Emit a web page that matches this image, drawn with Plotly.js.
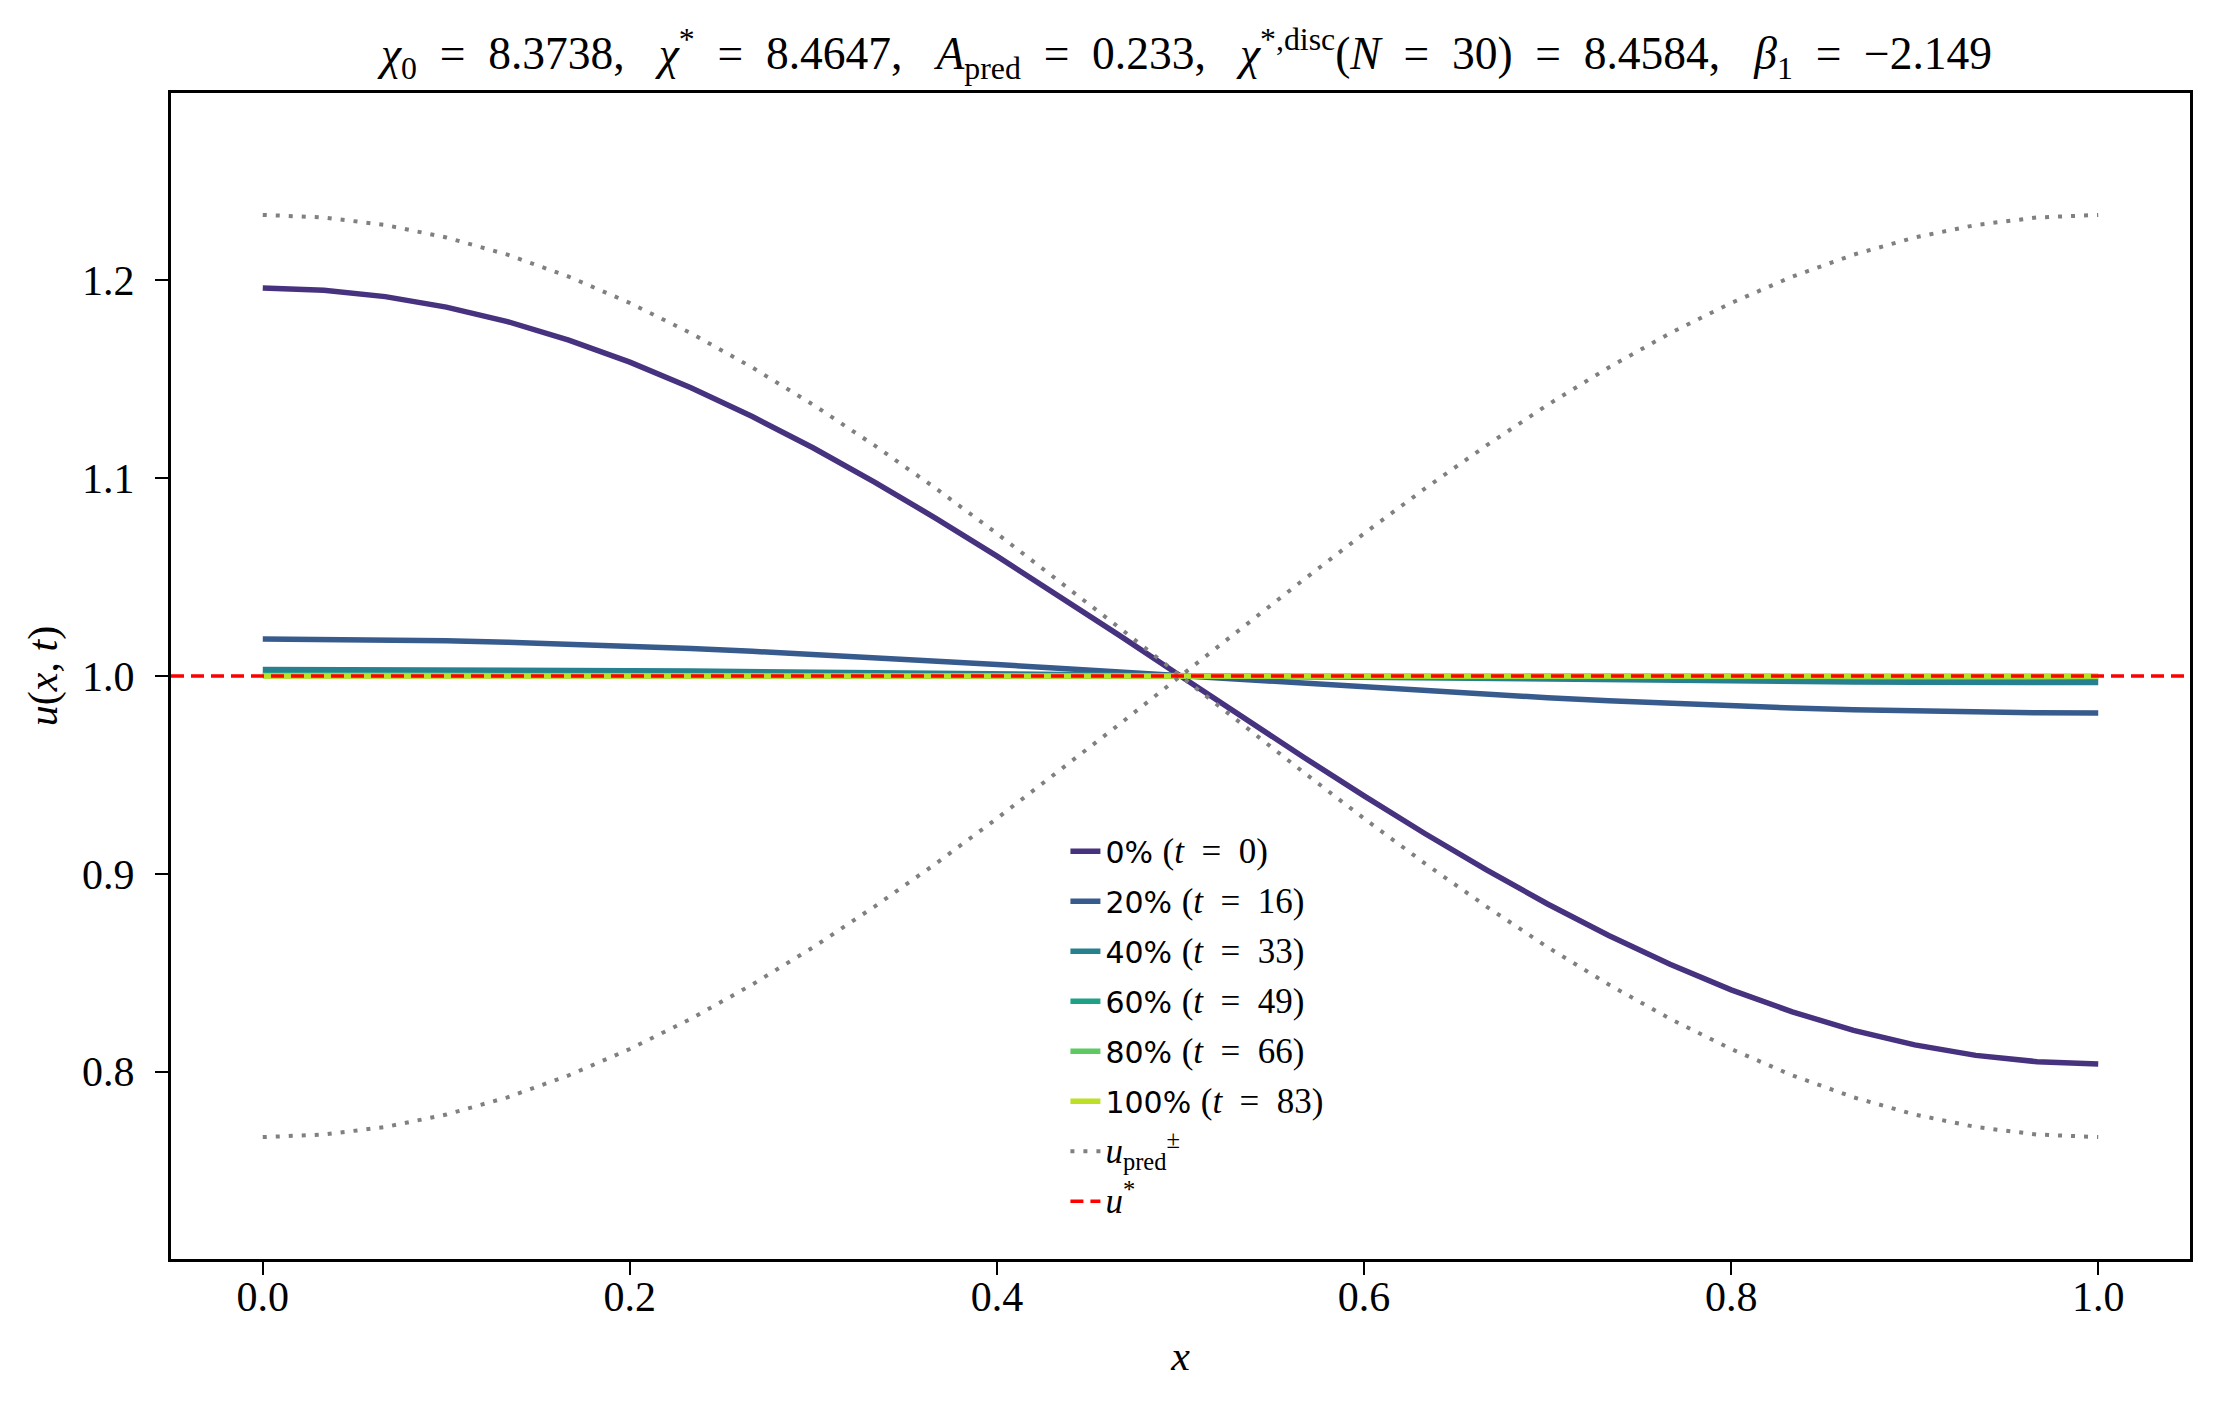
<!DOCTYPE html>
<html>
<head>
<meta charset="utf-8">
<script src="https://cdn.plot.ly/plotly-3.0.1.min.js"></script>
<style>
  html, body { margin: 0; padding: 0; background: #fff; }
  #plot { width: 2220px; height: 1409px; }
</style>
</head>
<body>
<div id="plot"></div>
<script>
// grid x_j = j/30
const xGrid = [0, 0.0333, 0.0667, 0.1, 0.1333, 0.1667, 0.2, 0.2333, 0.2667, 0.3, 0.3333,
  0.3667, 0.4, 0.4333, 0.4667, 0.5, 0.5333, 0.5667, 0.6, 0.6333, 0.6667,
  0.7, 0.7333, 0.7667, 0.8, 0.8333, 0.8667, 0.9, 0.9333, 0.9667, 1]

// snapshots u(x,t)
const u_t0 = [1.196, 1.1949, 1.1917, 1.1864, 1.1791, 1.1697, 1.1586, 1.1457, 1.1311, 1.1152, 1.098,
  1.0797, 1.0606, 1.0408, 1.0205, 1.0, 0.9795, 0.9592, 0.9394, 0.9203, 0.902,
  0.8848, 0.8689, 0.8543, 0.8414, 0.8303, 0.8209, 0.8136, 0.8083, 0.8051, 0.804]
const u_t16 = [1.0187, 1.0186, 1.0183, 1.0178, 1.0171, 1.0162, 1.0151, 1.0139, 1.0125, 1.011, 1.0094,
  1.0076, 1.0058, 1.0039, 1.002, 1.0, 0.998, 0.9961, 0.9942, 0.9924, 0.9906,
  0.989, 0.9875, 0.9861, 0.9849, 0.9838, 0.9829, 0.9822, 0.9817, 0.9814, 0.9813]
const u_t33 = [1.0033, 1.0033, 1.0032, 1.0031, 1.003, 1.0029, 1.0027, 1.0025, 1.0022, 1.0019, 1.0017,
  1.0013, 1.001, 1.0007, 1.0003, 1.0, 0.9997, 0.9993, 0.999, 0.9987, 0.9983,
  0.9981, 0.9978, 0.9975, 0.9973, 0.9971, 0.997, 0.9969, 0.9968, 0.9967, 0.9967]
const u_t49 = [1.0006, 1.0006, 1.0006, 1.0006, 1.0005, 1.0005, 1.0005, 1.0004, 1.0004, 1.0004, 1.0003,
  1.0002, 1.0002, 1.0001, 1.0001, 1.0, 0.9999, 0.9999, 0.9998, 0.9998, 0.9997,
  0.9996, 0.9996, 0.9996, 0.9995, 0.9995, 0.9995, 0.9994, 0.9994, 0.9994, 0.9994]
const u_t66 = [1.0001, 1.0001, 1.0001, 1.0001, 1.0001, 1.0001, 1.0001, 1.0001, 1.0001, 1.0001, 1.0,
  1.0, 1.0, 1.0, 1.0, 1.0, 1.0, 1.0, 1.0, 1.0, 1.0,
  0.9999, 0.9999, 0.9999, 0.9999, 0.9999, 0.9999, 0.9999, 0.9999, 0.9999, 0.9999]
const u_t83 = [1.0, 1.0, 1.0, 1.0, 1.0, 1.0, 1.0, 1.0, 1.0, 1.0, 1.0,
  1.0, 1.0, 1.0, 1.0, 1.0, 1.0, 1.0, 1.0, 1.0, 1.0,
  1.0, 1.0, 1.0, 1.0, 1.0, 1.0, 1.0, 1.0, 1.0, 1.0]

// predicted envelopes u_pred^+ and u_pred^-
const uPredPlus = [1.233, 1.2317, 1.2279, 1.2216, 1.2129, 1.2018, 1.1885, 1.1732, 1.1559, 1.137, 1.1165,
  1.0948, 1.072, 1.0484, 1.0244, 1.0, 0.9756, 0.9516, 0.928, 0.9052, 0.8835,
  0.863, 0.8441, 0.8268, 0.8115, 0.7982, 0.7871, 0.7784, 0.7721, 0.7683, 0.767]
const uPredMinus = [0.767, 0.7683, 0.7721, 0.7784, 0.7871, 0.7982, 0.8115, 0.8268, 0.8441, 0.863, 0.8835,
  0.9052, 0.928, 0.9516, 0.9756, 1.0, 1.0244, 1.0484, 1.072, 1.0948, 1.1165,
  1.137, 1.1559, 1.1732, 1.1885, 1.2018, 1.2129, 1.2216, 1.2279, 1.2317, 1.233]
const uStar = 1.0

const snapLabels = ['0%', '20%', '40%', '60%', '80%', '100%']
const snapTimes = [0, 16, 33, 49, 66, 83]
const snapColors = ['#46327e', '#375b8d', '#27808e', '#1fa187', '#5ec962', '#bddf26']
const snapshots = [u_t0, u_t16, u_t33, u_t49, u_t66, u_t83]

const xRange = [-0.05, 1.05]
const yRange = [0.7054, 1.2946]

const serif = 'Liberation Serif'
const mathSpan = s => `<span style="font-family:'${serif}';font-size:35px">${s}</span>`
const sp = '\u2002'  // wider math spacing

let data = []
snapshots.forEach((ys, i) => {
    data.push({
        type: 'scatter',
        mode: 'lines',
        x: xGrid,
        y: ys,
        name: snapLabels[i] + ' ' + mathSpan(`(<i>t</i>${sp}=${sp}${snapTimes[i]})`),
        legendgroup: 'g' + i,
        line: { color: snapColors[i], width: 5.5 }
    })
})
data.push({
    type: 'scatter',
    mode: 'lines',
    x: xGrid,
    y: uPredPlus,
    name: mathSpan('<i>u</i><sub>pred</sub><sup>±</sup>'),
    legendgroup: 'gp',
    line: { color: 'gray', width: 4, dash: '4px,9px' }
})
data.push({
    type: 'scatter',
    mode: 'lines',
    x: xGrid,
    y: uPredMinus,
    showlegend: false,
    legendgroup: 'gp',
    line: { color: 'gray', width: 4, dash: '4px,9px' }
})
data.push({
    type: 'scatter',
    mode: 'lines',
    x: xRange,
    y: [uStar, uStar],
    name: mathSpan('<i>u</i><sup>*</sup>'),
    legendgroup: 'gs',
    line: { color: 'red', width: 3.5, dash: '13px,7px' }
})

const axisCommon = {
    showline: true,
    mirror: true,
    linecolor: 'black',
    linewidth: 3,
    ticks: 'outside',
    ticklen: 13,
    tickwidth: 2.5,
    tickcolor: 'black',
    showgrid: false,
    zeroline: false,
    tickfont: { family: serif, size: 42, color: 'black' },
    tickformat: '.1f'
}

const titleText = `<i>χ</i><sub>0</sub>${sp}=${sp}8.3738,${sp} <i>χ</i><sup>*</sup>${sp}=${sp}8.4647,${sp} ` +
    `<i>A</i><sub>pred</sub>${sp}=${sp}0.233,${sp} <i>χ</i><sup>*,disc</sup>(<i>N</i>${sp}=${sp}30)${sp}=${sp}8.4584,${sp} ` +
    `<i>β</i><sub>1</sub>${sp}=${sp}−2.149`

const layout = {
    width: 2220,
    height: 1409,
    paper_bgcolor: 'white',
    plot_bgcolor: 'white',
    margin: { l: 171, r: 30, t: 93, b: 150 },
    title: {
        text: titleText,
        font: { family: serif, size: 45.5, color: 'black' },
        x: 0.5345,
        xanchor: 'center',
        y: 0.962,
        yanchor: 'middle'
    },
    xaxis: Object.assign({}, axisCommon, {
        range: xRange,
        tickvals: [0, 0.2, 0.4, 0.6, 0.8, 1.0],
        ticklabelstandoff: -14,
        title: { text: '<i>x</i>', font: { family: serif, size: 42, color: 'black' }, standoff: 22 }
    }),
    yaxis: Object.assign({}, axisCommon, {
        range: yRange,
        tickvals: [0.8, 0.9, 1.0, 1.1, 1.2],
        ticklabelstandoff: 12,
        title: { text: '<i>u</i>(<i>x</i>, <i>t</i>)', font: { family: serif, size: 42, color: 'black' }, standoff: 12 }
    }),
    showlegend: true,
    legend: {
        x: 0.443,
        xanchor: 'left',
        y: 0.372,
        yanchor: 'top',
        bgcolor: 'rgba(255,255,255,0)',
        borderwidth: 0,
        traceorder: 'grouped',
        tracegroupgap: 8,
        font: { family: 'DejaVu Sans', size: 30, color: 'black' }
    }
}

Plotly.newPlot('plot', data, layout, { displayModeBar: false, staticPlot: true })
</script>
</body>
</html>
